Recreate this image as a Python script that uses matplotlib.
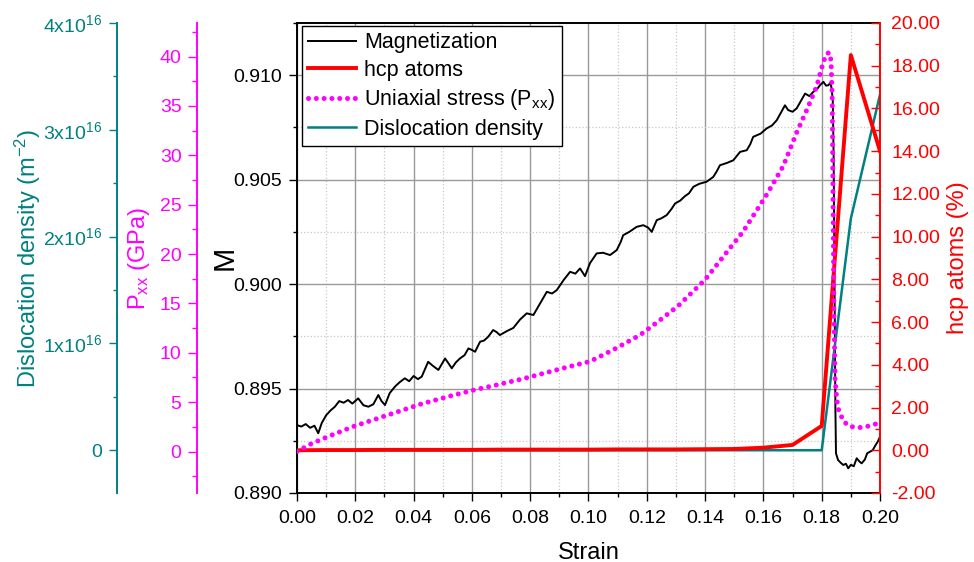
import numpy as np
import matplotlib
matplotlib.use("Agg")
import matplotlib.pyplot as plt
from matplotlib.ticker import MultipleLocator, FuncFormatter, FormatStrFormatter

plt.rcParams['font.family'] = ['Liberation Sans', 'DejaVu Sans']
plt.rcParams['mathtext.fontset'] = 'custom'
plt.rcParams['mathtext.rm'] = 'Liberation Sans'
plt.rcParams['mathtext.it'] = 'Liberation Sans:italic'
plt.rcParams['mathtext.bf'] = 'Liberation Sans:bold'

# magnetization
strain_m = [0.0000, 0.0015, 0.0030, 0.0045, 0.0060, 0.0073, 0.0085, 0.0100, 0.0115, 0.0130,
            0.0145, 0.0160, 0.0175, 0.0190, 0.0210, 0.0228, 0.0245, 0.0262, 0.0279, 0.0290,
            0.0302, 0.0318, 0.0336, 0.0352, 0.0370, 0.0385, 0.0400, 0.0415, 0.0428, 0.0450,
            0.0465, 0.0485, 0.0508, 0.0520, 0.0531, 0.0545, 0.0559, 0.0575, 0.0588, 0.0600,
            0.0611, 0.0628, 0.0642, 0.0656, 0.0673, 0.0685, 0.0696, 0.0720, 0.0742, 0.0765,
            0.0788, 0.0811, 0.0835, 0.0857, 0.0875, 0.0891, 0.0915, 0.0937, 0.0955, 0.0971,
            0.0988, 0.1005, 0.1028, 0.1050, 0.1074, 0.1097, 0.1110, 0.1119, 0.1140, 0.1165,
            0.1188, 0.1205, 0.1217, 0.1234, 0.1250, 0.1268, 0.1285, 0.1297, 0.1315, 0.1330,
            0.1345, 0.1360, 0.1380, 0.1405, 0.1428, 0.1440, 0.1451, 0.1475, 0.1497, 0.1520,
            0.1543, 0.1555, 0.1565, 0.1590, 0.1611, 0.1630, 0.1646, 0.1660, 0.1674, 0.1685,
            0.1700, 0.1714, 0.1730, 0.1743, 0.1758, 0.1771, 0.1785, 0.1794, 0.1806, 0.1815,
            0.1823, 0.1830, 0.1834, 0.1838, 0.1841, 0.1843, 0.1845, 0.1847, 0.1849, 0.1856,
            0.1865, 0.1874, 0.1883, 0.1891, 0.1900, 0.1910, 0.1920, 0.1930, 0.1937, 0.1948,
            0.1956, 0.1966, 0.1975, 0.1985, 0.1992, 0.2000]
magnetization = [0.89325, 0.89318, 0.89330, 0.89312, 0.89322, 0.89286, 0.89335, 0.89372, 0.89395, 0.89413,
                 0.89440, 0.89432, 0.89445, 0.89428, 0.89453, 0.89420, 0.89413, 0.89425, 0.89469, 0.89440,
                 0.89421, 0.89478, 0.89509, 0.89530, 0.89549, 0.89535, 0.89560, 0.89545, 0.89557, 0.89628,
                 0.89610, 0.89589, 0.89644, 0.89620, 0.89597, 0.89625, 0.89644, 0.89660, 0.89692, 0.89685,
                 0.89676, 0.89724, 0.89730, 0.89748, 0.89780, 0.89770, 0.89756, 0.89775, 0.89790, 0.89830,
                 0.89860, 0.89852, 0.89910, 0.89963, 0.89955, 0.89971, 0.90020, 0.90059, 0.90050, 0.90075,
                 0.90038, 0.90100, 0.90147, 0.90150, 0.90139, 0.90163, 0.90200, 0.90234, 0.90250, 0.90274,
                 0.90282, 0.90270, 0.90250, 0.90306, 0.90315, 0.90330, 0.90360, 0.90386, 0.90400, 0.90420,
                 0.90435, 0.90466, 0.90480, 0.90490, 0.90513, 0.90540, 0.90569, 0.90580, 0.90593, 0.90633,
                 0.90641, 0.90670, 0.90705, 0.90720, 0.90745, 0.90760, 0.90785, 0.90820, 0.90856, 0.90833,
                 0.90825, 0.90841, 0.90880, 0.90912, 0.90900, 0.90920, 0.90935, 0.90952, 0.90968, 0.90950,
                 0.90952, 0.90965, 0.90936, 0.90880, 0.90600, 0.90200, 0.89800, 0.89400, 0.89190, 0.89158,
                 0.89145, 0.89134, 0.89140, 0.89118, 0.89135, 0.89128, 0.89166, 0.89150, 0.89142, 0.89160,
                 0.89190, 0.89198, 0.89205, 0.89230, 0.89245, 0.89269]

# hcp atoms (%) and dislocation density, sampled every 0.01 strain
strain_c = [0.00, 0.01, 0.02, 0.03, 0.04, 0.05, 0.06, 0.07, 0.08, 0.09, 0.10,
            0.11, 0.12, 0.13, 0.14, 0.15, 0.16, 0.17, 0.18, 0.19, 0.20]
hcp = [0.0, 0.01, 0.01, 0.02, 0.02, 0.02, 0.02, 0.03, 0.03, 0.03, 0.03,
       0.04, 0.04, 0.04, 0.05, 0.06, 0.12, 0.25, 1.14, 18.5, 14.0]
disloc = [0, 0, 0, 0, 0, 0, 0, 0, 0, 0, 0,
          0, 0, 0, 0, 0, 0, 0, 0, 2.17e16, 3.33e16]

# uniaxial stress Pxx (GPa)
strain_p = [0, 0.005, 0.0107, 0.0193, 0.0302, 0.0428, 0.0519, 0.061, 0.0673, 0.0776,
            0.0914, 0.1005, 0.1085, 0.1177, 0.1245, 0.1308, 0.14, 0.1463, 0.1531, 0.1611,
            0.1668, 0.1714, 0.1749, 0.1783, 0.1806, 0.1818, 0.1826, 0.1832, 0.1836, 0.1839,
            0.1842, 0.1846, 0.1852, 0.1858, 0.1875, 0.1897, 0.1931, 0.1966, 0.2]
pxx = [0, 0.8, 1.52, 2.53, 3.6, 4.83, 5.57, 6.25, 6.66, 7.37,
       8.45, 9.12, 10.3, 11.8, 13.3, 14.76, 17.4, 19.76, 22.3, 26.0,
       28.9, 32.3, 34.6, 37.0, 39.5, 40.3, 40.4, 39.6, 36.0, 25.0,
       14.0, 7.3, 5.2, 4.2, 3.04, 2.53, 2.43, 2.6, 2.94]

TEAL = '#008080'
MAG = '#ff00ff'
RED = '#ff0000'
TS = 14
LS = 17

fig = plt.figure(figsize=(9.74, 5.62), dpi=100)
ax = fig.add_axes([0.3049, 0.1228, 0.5986, 0.8363])
ax_d = ax.twinx()
ax_h = ax.twinx()
ax_p = ax.twinx()

# main axis: magnetization
ln_m, = ax.plot(strain_m, magnetization, color='black', lw=1.4, label='Magnetization')
ax.set_xlim(0, 0.20)
ax.set_ylim(0.890, 0.9125)
ax.xaxis.set_major_locator(MultipleLocator(0.02))
ax.xaxis.set_minor_locator(MultipleLocator(0.01))
ax.yaxis.set_major_locator(MultipleLocator(0.005))
ax.yaxis.set_minor_locator(MultipleLocator(0.0025))
ax.xaxis.set_major_formatter(FormatStrFormatter('%.2f'))
ax.yaxis.set_major_formatter(FormatStrFormatter('%.3f'))
ax.grid(which='major', color='#999999', lw=1.0, ls='-')
ax.grid(which='minor', color='#c8c8c8', lw=0.9, ls=':')
ax.set_axisbelow(True)
ax.tick_params(which='both', direction='out', right=False, top=False, labelsize=TS, width=1.0)
ax.tick_params(which='major', length=6, pad=5)
ax.tick_params(axis='x', which='major', pad=6)
ax.tick_params(which='minor', length=3.2)
for s in ax.spines.values():
    s.set_linewidth(1.4)
ax.spines['right'].set_visible(False)
ax.set_xlabel('Strain', fontsize=LS)
ax.xaxis.set_label_coords(0.5, -0.104)
ax.set_ylabel('M', fontsize=21)
ax.yaxis.set_label_coords(-0.0995, 0.5)

# dislocation density
ln_d, = ax_d.plot(strain_c, disloc, color=TEAL, lw=1.8, label='Dislocation density')
ax_d.set_ylim(-0.4e16, 4e16)
ax_d.yaxis.set_major_locator(MultipleLocator(1e16))
ax_d.yaxis.set_minor_locator(MultipleLocator(0.5e16))


def fmt_disloc(v, pos):
    n = int(round(v / 1e16))
    if n == 0:
        return '0'
    return '%dx10$^{16}$' % n


ax_d.yaxis.set_major_formatter(FuncFormatter(fmt_disloc))
ax_d.yaxis.set_ticks_position('left')
ax_d.yaxis.set_label_position('left')
ax_d.spines['left'].set_position(('axes', -0.3087))
ax_d.spines['left'].set_visible(True)
ax_d.spines['left'].set_color(TEAL)
ax_d.spines['left'].set_linewidth(1.4)
for k in ('right', 'top', 'bottom'):
    ax_d.spines[k].set_visible(False)
ax_d.tick_params(which='both', direction='out', colors=TEAL, labelsize=TS, width=1.0)
ax_d.tick_params(which='major', length=6, pad=5)
ax_d.tick_params(which='minor', length=3.2)
ax_d.set_ylabel('Dislocation density (m$^{-2}$)', fontsize=LS, color=TEAL)
ax_d.yaxis.set_label_coords(-0.436, 0.5)

# hcp atoms
ln_h, = ax_h.plot(strain_c, hcp, color=RED, lw=2.8, label='hcp atoms')
ax_h.set_ylim(-2, 20)
ax_h.yaxis.set_major_locator(MultipleLocator(2))
ax_h.yaxis.set_minor_locator(MultipleLocator(1))
ax_h.yaxis.set_major_formatter(FormatStrFormatter('%.2f'))
ax_h.spines['right'].set_color(RED)
ax_h.spines['right'].set_linewidth(1.4)
for k in ('left', 'top', 'bottom'):
    ax_h.spines[k].set_visible(False)
ax_h.tick_params(which='both', direction='in', colors=RED, labelsize=TS, width=1.0)
ax_h.tick_params(which='major', length=6.5, pad=8)
ax_h.tick_params(which='minor', length=3.5)
ax_h.set_ylabel('hcp atoms (%)', fontsize=LS, color=RED)
ax_h.yaxis.set_label_coords(1.115, 0.5)

# uniaxial stress
ln_p, = ax_p.plot(strain_p, pxx, color=MAG, lw=3.6, ls=(0, (0.01, 1.55)),
                  dash_capstyle='round', label='Uniaxial stress (P$_{\\mathrm{xx}}$)')
ax_p.set_ylim(-4.2, 43.4)
ax_p.yaxis.set_major_locator(MultipleLocator(5))
ax_p.yaxis.set_minor_locator(MultipleLocator(2.5))
ax_p.yaxis.set_ticks_position('left')
ax_p.yaxis.set_label_position('left')
ax_p.spines['left'].set_position(('axes', -0.1707))
ax_p.spines['left'].set_visible(True)
ax_p.spines['left'].set_color(MAG)
ax_p.spines['left'].set_linewidth(1.4)
for k in ('right', 'top', 'bottom'):
    ax_p.spines[k].set_visible(False)
ax_p.tick_params(which='both', direction='out', colors=MAG, labelsize=TS, width=1.0)
ax_p.tick_params(which='major', length=6.5, pad=5)
ax_p.tick_params(which='minor', length=3.5)
ax_p.set_ylabel('P$_{\\mathrm{xx}}$ (GPa)', fontsize=LS, color=MAG)
ax_p.yaxis.set_label_coords(-0.2494, 0.5)

leg = ax_p.legend([ln_m, ln_h, ln_p, ln_d],
                  ['Magnetization', 'hcp atoms', 'Uniaxial stress (P$_{\\mathrm{xx}}$)', 'Dislocation density'],
                  loc='upper left', bbox_to_anchor=(0.0086, 0.9936), borderaxespad=0,
                  fontsize=15.5, fancybox=False, framealpha=1, edgecolor='black',
                  handlelength=2.2, handletextpad=0.4, labelspacing=0.3, borderpad=0.3)
leg.get_frame().set_linewidth(1.0)

fig.savefig('out.png', dpi=100)
